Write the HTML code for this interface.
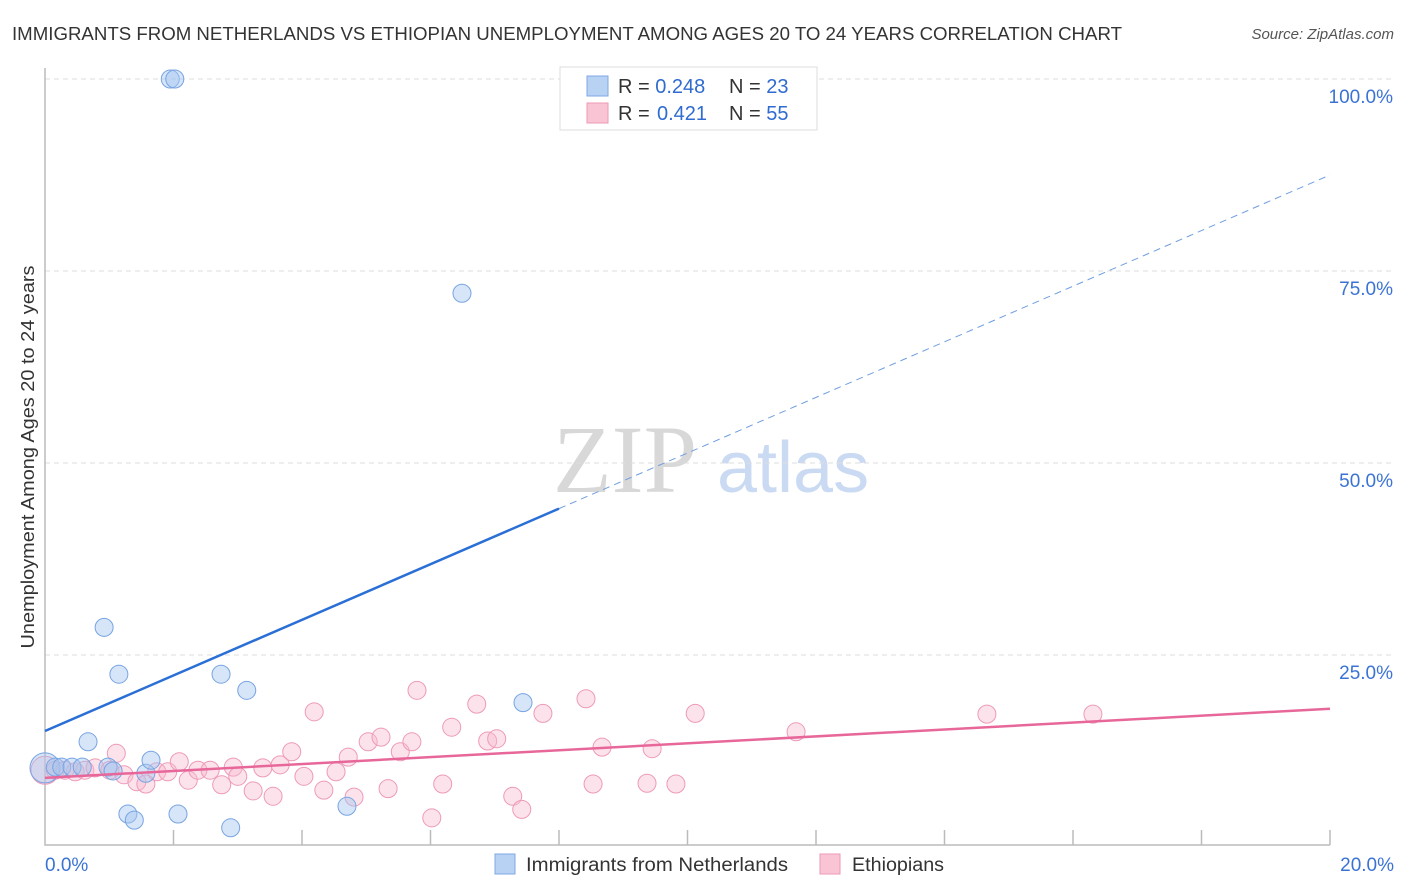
<!DOCTYPE html>
<html><head><meta charset="utf-8"><style>
body{margin:0;background:#fff;font-family:"Liberation Sans",sans-serif;}
svg{display:block}
</style></head><body>
<svg id="chart" width="1406" height="892">
<text x="12" y="40" font-size="18" fill="#333" textLength="1110" lengthAdjust="spacingAndGlyphs">IMMIGRANTS FROM NETHERLANDS VS ETHIOPIAN UNEMPLOYMENT AMONG AGES 20 TO 24 YEARS CORRELATION CHART</text>
<text x="1394" y="39" font-size="15" fill="#555" font-style="italic" text-anchor="end">Source: ZipAtlas.com</text>
<text transform="translate(34,457) rotate(-90)" font-size="18" fill="#333" text-anchor="middle" textLength="383" lengthAdjust="spacingAndGlyphs">Unemployment Among Ages 20 to 24 years</text>
<g>
<text x="553" y="492" font-size="96" font-family="Liberation Serif,serif" fill="#d8d8d8">ZIP</text>
<text x="717" y="492" font-size="72" fill="#c9daf2">atlas</text>
</g>
<g id="grid"></g>
<g id="marks"></g>
<g>
<rect x="560" y="67" width="257" height="63" fill="#fff" stroke="#ddd"/>
<rect x="587" y="76" width="21" height="20" fill="#b8d2f4" stroke="#7fa8e4"/>
<rect x="587" y="103" width="21" height="20" fill="#f9c4d4" stroke="#ec9ab6"/>
<text x="618" y="93" font-size="20" fill="#333">R = <tspan fill="#2f6bd0">0.248</tspan><tspan x="729">N = </tspan><tspan fill="#2f6bd0">23</tspan></text>
<text x="618" y="120" font-size="20" fill="#333">R = <tspan fill="#2f6bd0" x="657">0.421</tspan><tspan x="729">N = </tspan><tspan fill="#2f6bd0">55</tspan></text>
</g>
<g>
<rect x="495" y="854" width="20" height="20" fill="#b8d2f4" stroke="#7fa8e4"/>
<text x="526" y="871" font-size="19" fill="#333" textLength="262" lengthAdjust="spacingAndGlyphs">Immigrants from Netherlands</text>
<rect x="820" y="854" width="20" height="20" fill="#f9c4d4" stroke="#ec9ab6"/>
<text x="852" y="871" font-size="19" fill="#333" textLength="92" lengthAdjust="spacingAndGlyphs">Ethiopians</text>
</g>
</svg>
<script>
const yTicks=[25,50,75,100];
const yTickLabels=["25.0%","50.0%","75.0%","100.0%"];
const xTicks=[2,4,6,8,10,12,14,16,18,20];
const xEndLabels=["0.0%","20.0%"];
const blueX=[0,0.16,0.26,0.42,0.58,0.67,0.92,0.98,1.06,1.15,1.29,1.39,1.57,1.65,2.07,2.74,2.89,3.14,4.70,6.49,7.44,1.95,2.02];
const blueY=[10.3,10.4,10.4,10.4,10.4,13.7,28.6,10.4,9.9,22.5,4.3,3.5,9.6,11.3,4.3,22.5,2.5,20.4,5.3,72.1,18.8,100,100];
const pinkX=[0,0.16,0.31,0.47,0.62,0.78,1.01,1.11,1.23,1.43,1.57,1.74,1.91,2.09,2.23,2.38,2.57,2.75,2.93,3.00,3.24,3.39,3.55,3.66,3.84,4.03,4.19,4.34,4.53,4.72,4.81,5.03,5.23,5.34,5.53,5.71,5.79,6.02,6.19,6.33,6.72,6.89,7.03,7.28,7.42,7.75,8.42,8.53,8.67,9.37,9.45,9.82,10.12,11.69,14.66,16.31];
const pinkY=[10.0,10.0,10.0,9.8,10.0,10.3,10.0,12.2,9.4,8.5,8.2,9.8,9.8,11.1,8.7,10.0,10.0,8.1,10.4,9.2,7.3,10.3,6.6,10.7,12.4,9.2,17.6,7.4,9.8,11.7,6.5,13.7,14.3,7.6,12.4,13.7,20.4,3.8,8.2,15.6,18.6,13.8,14.1,6.6,4.9,17.4,19.3,8.2,13.0,8.3,12.8,8.2,17.4,15.0,17.3,17.3];
const blueLine=[15.1,87.5]; const blueSolidEnd=8.0;
const pinkLine=[9.0,18.0];
const X=v=>45+v*64.25, Y=v=>847-v*7.68;
const NS="http://www.w3.org/2000/svg";
function mk(t,a,p){const e=document.createElementNS(NS,t);for(const k in a)e.setAttribute(k,a[k]);p.appendChild(e);return e;}
const g=document.getElementById('grid'), m=document.getElementById('marks');
yTicks.forEach((t,i)=>{
 const l=mk('line',{x1:45,x2:1394,y1:Y(t),y2:Y(t),stroke:'#ddd','stroke-dasharray':'5,4'},g);
 
 
 const tx=mk('text',{x:1393,y:Y(t)+24,'font-size':19,fill:'#3b73d4','text-anchor':'end'},g);
 tx.textContent=yTickLabels[i];
 
 
});
const ax=mk('path',{d:'M45 68V845H1330',fill:'none',stroke:'#bbb','stroke-width':1.5},g);


xTicks.forEach(t=>{
 const l=mk('line',{x1:X(t),x2:X(t),y1:830,y2:845,stroke:'#bbb','stroke-width':1.5},g);
 
 
});
[[45,'start',0],[1394,'end',1]].forEach(([x,a,i])=>{
 const tx=mk('text',{x:x,y:871,'font-size':19,fill:'#3b73d4','text-anchor':a},g);
 tx.textContent=xEndLabels[i];
 
 
});
pinkX.forEach((x,i)=>{
 const c=mk('circle',{cx:X(x),cy:Y(pinkY[i]),r:i==0?14:9,fill:'rgba(248,185,205,0.4)',stroke:'#ee9ab8','stroke-width':1},m);
 
 
});
blueX.forEach((x,i)=>{
 const c=mk('circle',{cx:X(x),cy:Y(blueY[i]),r:i==0?15:9,fill:'rgba(165,198,240,0.45)',stroke:'#78a4e2','stroke-width':1},m);
 
 
});
const bAt=x=>blueLine[0]+(blueLine[1]-blueLine[0])*x/20;
let l=mk('line',{x1:X(0),y1:Y(bAt(0)),x2:X(blueSolidEnd),y2:Y(bAt(blueSolidEnd)),stroke:'#2a6fd6','stroke-width':2.5},m);


l=mk('line',{x1:X(blueSolidEnd),y1:Y(bAt(blueSolidEnd)),x2:X(20),y2:Y(bAt(20)),stroke:'#6f9ee0','stroke-width':1,'stroke-dasharray':'7,5'},m);


l=mk('line',{x1:X(0),y1:Y(pinkLine[0]),x2:X(20),y2:Y(pinkLine[1]),stroke:'#e8679a','stroke-width':2.5},m);


</script>
</body></html>
